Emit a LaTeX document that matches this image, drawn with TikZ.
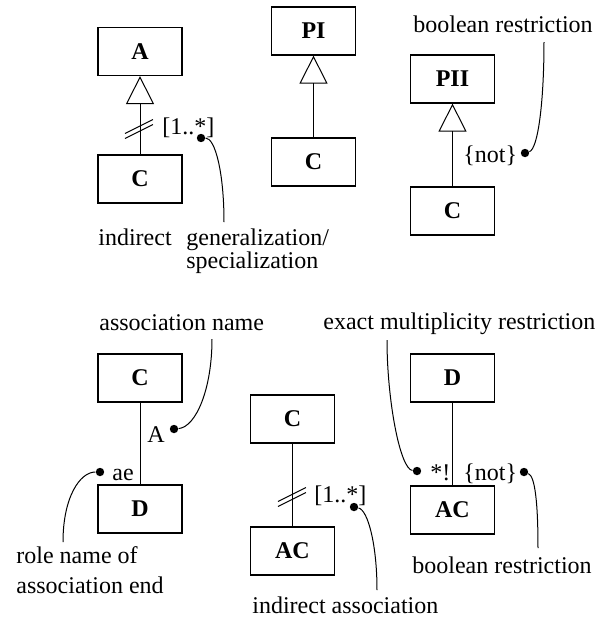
\documentclass[tikz,border=0pt]{standalone}
\usepackage{fontspec}
\setmainfont{Liberation Serif}
\usepackage{tikz}
\usetikzlibrary{arrows.meta}

\begin{document}
\begin{tikzpicture}[
   x=0.5pt, y=-0.5pt,
   font=\fontsize{12}{14}\selectfont,
   cls/.style={draw, line width=0.6pt, minimum width=42pt, minimum height=24pt,
      inner sep=0pt, font=\fontsize{12}{14}\selectfont\bfseries},
   lnk/.style={line width=0.5pt},
   gen/.style={lnk, line join=miter, -{Triangle[open, length=14pt, width=14pt]}},
   txt/.style={anchor=base west, inner sep=0pt},
   pin/.style={circle, fill, inner sep=0pt, minimum size=4.2pt}
]
\useasboundingbox (0,0) rectangle (611,617);

% indirect generalization
\node[cls] (a) at (140,51.5) {A};
\node[cls] (c1) at (140,179) {C};
\draw[gen] (c1) -- (a);
\coordinate (cut1) at (139,129);
\foreach \s in {-2.5,2.5}
   \draw[lnk] ([shift={(-14,7+\s)}]cut1) -- ([shift={(14,-7+\s)}]cut1);
\node[txt] (m1) at (162,134) {[1..*]};
\node[pin] (p1) at (201,138) {};
\coordinate (e1) at (224,222);
\draw[lnk] (p1) .. controls +(14,0) and +(0,-50) .. (e1);
\node[txt] (t1) at (98,245) {indirect};
\node[txt] (t2) at (186,245) {generalization/};
\node[txt] (t3) at (186,268) {specialization};

% generalization
\node[cls] (pi) at (313.5,31) {PI};
\node[cls] (c2) at (313.5,162) {C};
\draw[gen] (c2) -- (pi);

% boolean restriction on generalization
\node[cls] (pii) at (452.5,79) {PII};
\node[cls] (c3) at (452.5,211) {C};
\draw[gen] (c3) -- (pii);
\node[txt] (m2) at (463,162) {\{not\}};
\node[pin] (p2) at (525,153) {};
\coordinate (e2) at (544,42);
\draw[lnk] (p2) .. controls +(13,-4) and +(0,60) .. (e2);
\node[txt] (t4) at (413,32) {boolean restriction};

% association
\node[cls] (c4) at (140,378) {C};
\node[cls] (d1) at (140,509) {D};
\draw[lnk] (c4) -- (d1);
\node[txt] (m3) at (147,442) {A};
\node[pin] (p3) at (174,429) {};
\coordinate (e3) at (212,339);
\draw[lnk] (p3) .. controls +(22,-2) and +(0,50) .. (e3);
\node[txt] (t5) at (99,330) {association name};
\node[txt] (m4) at (112,480) {ae};
\node[pin] (p4) at (100,472) {};
\coordinate (e4) at (63,542);
\draw[lnk] (p4) .. controls +(-20,0) and +(0,-45) .. (e4);
\node[txt] (t6) at (16,563) {role name of};
\node[txt] (t7) at (16,593) {association end};

% indirect association
\node[cls] (c5) at (292.5,419) {C};
\node[cls] (ac1) at (292.5,551) {AC};
\draw[lnk] (c5) -- (ac1);
\coordinate (cut2) at (292,497);
\foreach \s in {-2.5,2.5}
   \draw[lnk] ([shift={(-14,7+\s)}]cut2) -- ([shift={(14,-7+\s)}]cut2);
\node[txt] (m5) at (314,502) {[1..*]};
\node[pin] (p5) at (354,507) {};
\coordinate (e5) at (377,590);
\draw[lnk] (p5) .. controls +(14,3) and +(0,-45) .. (e5);
\node[txt] (t8) at (252,613) {indirect association};

% exact multiplicity and boolean restriction
\node[cls] (d2) at (452.5,378) {D};
\node[cls] (ac2) at (452.5,510) {AC};
\draw[lnk] (d2) -- (ac2);
\node[txt] (m6) at (430,480) {*!};
\node[pin] (p6) at (417,471) {};
\coordinate (e6) at (387,340);
\draw[lnk] (p6) .. controls +(-17,-2) and +(0,60) .. (e6);
\node[txt] (t9) at (323,329) {exact multiplicity restriction};
\node[txt] (m7) at (463,480) {\{not\}};
\node[pin] (p7) at (524,472) {};
\coordinate (e7) at (538,548);
\draw[lnk] (p7) .. controls +(11,4) and +(0,-45) .. (e7);
\node[txt] (t10) at (412,573) {boolean restriction};
\end{tikzpicture}
\end{document}
